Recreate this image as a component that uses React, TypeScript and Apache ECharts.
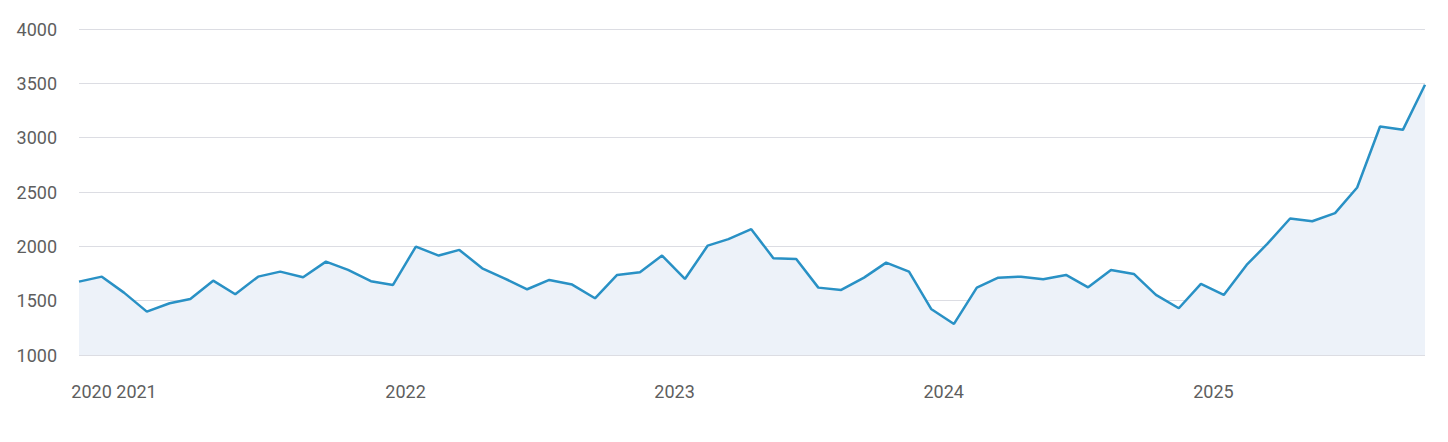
import React, { useEffect, useRef } from "react";
import * as echarts from "echarts";

// Monthly observations, Oct 2020 – Oct 2025 (plotted on the 15th of each month)
const startYear = 2020;
const startMonth = 10; // October
const values: number[] = [
  1675, 1721, 1574, 1399, 1476, 1516, 1684, 1559, 1721, 1767, 1716, 1859,
  1783, 1679, 1645, 1998, 1915, 1967, 1798, 1706, 1605, 1691, 1648, 1522,
  1737, 1762, 1915, 1700, 2007, 2066, 2158, 1891, 1884, 1620, 1599, 1712,
  1850, 1767, 1424, 1286, 1620, 1712, 1721, 1697, 1737, 1623, 1783, 1746,
  1553, 1430, 1654, 1553, 1829, 2022, 2256, 2231, 2305, 2541, 3103, 3072,
  3487,
];

// Year labels on the x axis (first one marks the first full month shown)
const xLabelDates: string[] = [
  "2020-11-01",
  "2021-01-01",
  "2022-01-01",
  "2023-01-01",
  "2024-01-01",
  "2025-01-01",
];

const yTicks: number[] = [1000, 1500, 2000, 2500, 3000, 3500, 4000];

function monthDate(i: number): number {
  const m = startMonth - 1 + i;
  const y = startYear + Math.floor(m / 12);
  const mm = m % 12;
  return Date.UTC(y, mm, 15);
}

const toUTC = (s: string) => {
  const [y, m, d] = s.split("-").map(Number);
  return Date.UTC(y, m - 1, d);
};

export default function App() {
  const ref = useRef<HTMLDivElement>(null);

  useEffect(() => {
    if (!ref.current) return;
    const chart = echarts.init(ref.current, undefined, { renderer: "svg" });
    const data = values.map((v, i) => [monthDate(i), v]);
    const labelFont = {
      fontFamily: "Roboto, 'DejaVu Sans', sans-serif",
      fontSize: 18,
      color: "#5e5e5e",
    };
    chart.setOption({
      animation: false,
      grid: { left: 79, right: 23, top: 29, bottom: 87, containLabel: false },
      xAxis: {
        type: "value",
        min: monthDate(0),
        max: monthDate(values.length - 1),
        axisLine: { show: false },
        axisTick: { show: false },
        splitLine: { show: false },
        axisLabel: {
          ...labelFont,
          margin: 27,
          customValues: xLabelDates.map(toUTC),
          formatter: (v: number) => String(new Date(v).getUTCFullYear()),
          hideOverlap: false,
        },
      },
      yAxis: {
        type: "value",
        min: yTicks[0],
        max: yTicks[yTicks.length - 1],
        interval: 500,
        axisLine: { show: false },
        axisTick: { show: false },
        splitLine: { lineStyle: { color: "#dcdde3", width: 1 } },
        axisLabel: {
          ...labelFont,
          margin: 22,
          formatter: (v: number) => String(v),
        },
      },
      series: [
        {
          type: "line",
          data,
          showSymbol: false,
          symbol: "none",
          lineStyle: { color: "#2991c5", width: 2.5 },
          itemStyle: { color: "#2991c5" },
          areaStyle: { color: "#edf2f9", opacity: 1, origin: "start" },
        },
      ],
    });
    return () => chart.dispose();
  }, []);

  return (
    <div
      ref={ref}
      style={{
        position: "fixed",
        left: 0,
        top: 0,
        width: 1448,
        height: 442,
        background: "#ffffff",
      }}
    />
  );
}
